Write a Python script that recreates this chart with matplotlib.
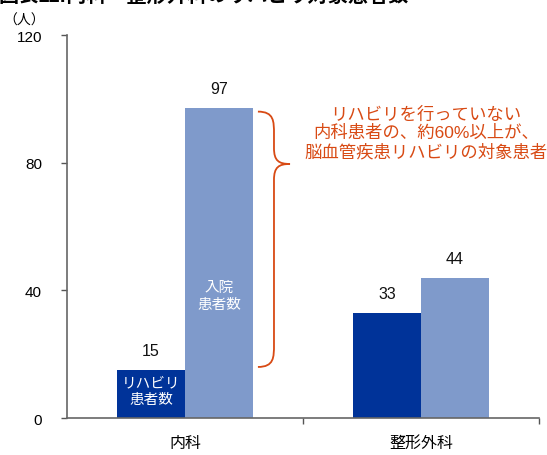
import numpy as np
import matplotlib.pyplot as plt
from matplotlib.path import Path
from matplotlib.patches import PathPatch

plt.rcParams['font.family'] = ['Liberation Sans', 'Noto Sans CJK JP']

categories = ['内科', '整形外科']
rehab = [15, 33]        # リハビリ患者数
inpatients = [97, 44]   # 入院患者数
yticks = [0, 40, 80, 120]

dark = '#003399'
light = '#7f9acb'
accent = '#d84a14'

fig = plt.figure(figsize=(5.47, 4.56), dpi=100)
ax = fig.add_axes([0.1225, 0.0811, 0.8629, 0.8399])

x = np.arange(len(categories))
w = 0.288
b1 = ax.bar(x - w / 2, rehab, w, color=dark)
b2 = ax.bar(x + w / 2, inpatients, w, color=light)

for bars, vals in ((b1, rehab), (b2, inpatients)):
    for bar, v in zip(bars, vals):
        ax.annotate(str(v), (bar.get_x() + bar.get_width() / 2, v),
                    xytext=(0, 14), textcoords='offset points',
                    ha='center', va='center', fontsize=11.5, color='#111111')

# labels inside the 内科 bars
ax.text(x[0] - w / 2, 8.5, 'リハビリ\n患者数', color='white', ha='center',
        va='center', fontsize=10.5, linespacing=1.25)
ax.text(x[0] + w / 2, 38.5, '入院\n患者数', color='white', ha='center',
        va='center', fontsize=10.5, linespacing=1.25)

# curly brace spanning the gap between the two 内科 bars
top, bot = inpatients[0] - 1, rehab[0] + 1
tip = 79.6
x0, x1, x2 = 0.309, 0.377, 0.445
verts = [(x0, top), (x1, top), (x1, top - 3), (x1, top - 7),
         (x1, tip + 5),
         (x1, tip + 1), (x1 + 0.02, tip), (x2, tip),
         (x1 + 0.02, tip), (x1, tip - 1), (x1, tip - 5),
         (x1, bot + 7),
         (x1, bot + 3), (x1, bot), (x0, bot)]
codes = [Path.MOVETO, Path.CURVE4, Path.CURVE4, Path.CURVE4,
         Path.LINETO,
         Path.CURVE4, Path.CURVE4, Path.CURVE4,
         Path.CURVE4, Path.CURVE4, Path.CURVE4,
         Path.LINETO,
         Path.CURVE4, Path.CURVE4, Path.CURVE4]
ax.add_patch(PathPatch(Path(verts, codes), fill=False, edgecolor=accent,
                       lw=1.3, clip_on=False))

ax.text(1.02, 89.5,
        'リハビリを行っていない\n内科患者の、約60%以上が、\n脳血管疾患リハビリの対象患者',
        color=accent, ha='center', va='center', fontsize=12.5,
        linespacing=1.2, clip_on=False)

ax.set_xlim(-0.5, 1.5)
ax.set_ylim(0, 120)
ax.set_yticks(yticks)
ax.set_xticks(x)
ax.set_xticklabels(categories, fontsize=11.5)
ax.set_xticks([0.5, 1.5], minor=True)
ax.tick_params(axis='x', which='major', length=0, pad=12)
ax.tick_params(axis='x', which='minor', length=4, width=1, color='#555555',
               direction='out')
ax.tick_params(axis='y', length=4, width=1, color='#555555', pad=14,
               labelsize=11)

for s in ('top', 'right'):
    ax.spines[s].set_visible(False)
for s in ('left', 'bottom'):
    ax.spines[s].set_color('#666666')
    ax.spines[s].set_linewidth(1.2)

fig.text(0.045, 0.955, '（人）', fontsize=10, ha='center', va='center')
fig.text(-0.002, 0.997, '図表11:内科・整形外科のリハビリ対象患者数',
         fontsize=14.5, fontweight='bold', ha='left', va='baseline')

fig.savefig('out.png', dpi=100)
